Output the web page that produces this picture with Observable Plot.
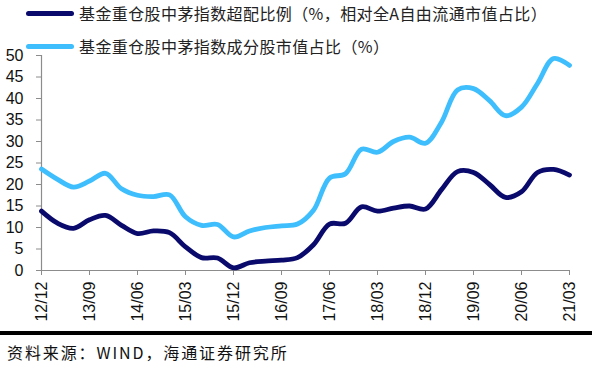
<!DOCTYPE html>
<html>
<head>
<meta charset="utf-8">
<script src="https://cdn.jsdelivr.net/npm/d3@7"></script>
<script src="https://cdn.jsdelivr.net/npm/@observablehq/plot@0.6"></script>
<style>
  html, body { margin: 0; padding: 0; background: #fff; }
  #wrap { position: relative; width: 592px; height: 372px; overflow: hidden; font-family: "Liberation Sans", Arial, sans-serif; }
  #chart { position: absolute; left: 0; top: 0; }
  .leg { position: absolute; left: 26px; height: 20px; display: flex; align-items: center; }
  .leg .sw { width: 48px; height: 5px; border-radius: 3px; margin-right: 5px; }
  .leg .tx { font-family: "Noto Sans CJK SC", "Liberation Sans", sans-serif; font-size: 16px; color: #222; white-space: nowrap; letter-spacing: 0.4px; }
  #bar { position: absolute; left: 0; top: 331px; width: 592px; height: 4px; background: #000; }
  #src { position: absolute; left: 7px; top: 340px; font-family: "Noto Sans CJK SC", sans-serif; font-size: 16px; color: #111; white-space: nowrap; letter-spacing: 1.9px; }
</style>
</head>
<body>
<div id="wrap">
  <div id="chart"></div>
  <div class="leg" style="top:3px"><div class="sw" id="sw1"></div><div class="tx" id="lt1"></div></div>
  <div class="leg" style="top:36px"><div class="sw" id="sw2"></div><div class="tx" id="lt2"></div></div>
  <div id="bar"></div>
  <div id="src"></div>
</div>
<script>
const quarters = ["12/12","13/03","13/06","13/09","13/12","14/03","14/06","14/09","14/12","15/03","15/06","15/09","15/12","16/03","16/06","16/09","16/12","17/03","17/06","17/09","17/12","18/03","18/06","18/09","18/12","19/03","19/06","19/09","19/12","20/03","20/06","20/09","20/12","21/03"];
const tickLabels = ["12/12","13/09","14/06","15/03","15/12","16/09","17/06","18/03","18/12","19/09","20/06","21/03"];
const overweight = [13.8,11.0,9.8,11.8,12.8,10.5,8.6,9.2,8.8,5.5,3.0,2.9,0.6,1.8,2.2,2.4,3.0,6.0,10.8,11.0,14.8,13.8,14.5,15.0,14.3,18.8,23.0,22.8,20.0,17.0,18.3,22.8,23.5,22.2];
const share = [23.6,21.2,19.4,20.8,22.6,19.0,17.5,17.2,17.6,12.5,10.5,10.7,7.8,9.2,10.0,10.4,10.8,14.0,21.5,22.5,28.2,27.5,30.0,31.0,29.6,34.5,42.0,42.3,39.5,36.0,38.0,43.5,49.3,47.7];
const yTicks = [0,5,10,15,20,25,30,35,40,45,50];
const seriesNames = ["基金重仓股中茅指数超配比例（%，相对全A自由流通市值占比）", "基金重仓股中茅指数成分股市值占比（%）"];
const seriesColors = ["#0a0a6c", "#3ebefc"];
const sourceText = "资料来源：WIND，海通证券研究所";

const rows1 = quarters.map((q, i) => ({q, v: overweight[i]}));
const rows2 = quarters.map((q, i) => ({q, v: share[i]}));

const plot = Plot.plot({
  width: 592,
  height: 332,
  marginTop: 55,
  marginBottom: 62,
  marginLeft: 41,
  marginRight: 23,
  style: {fontFamily: "'Liberation Sans', Arial, sans-serif", fontSize: "16px", color: "#111", background: "transparent"},
  x: {type: "point", domain: quarters, padding: 0},
  y: {domain: [0, 50]},
  marks: [
    Plot.ruleY([0], {stroke: "#8c8c8c", strokeWidth: 1.2}),
    Plot.ruleX([quarters[0]], {y1: 0, y2: 50, stroke: "#8c8c8c", strokeWidth: 1.2}),
    Plot.axisY({ticks: yTicks, tickSize: 5, tickPadding: 13, stroke: "#8c8c8c", fontSize: 16, label: null}),
    Plot.axisX({ticks: tickLabels, tickSize: 5, tickPadding: 6, tickRotate: -90, stroke: "#8c8c8c", fontSize: 16, label: null}),
    Plot.line(rows2, {x: "q", y: "v", stroke: seriesColors[1], strokeWidth: 4.8, curve: "catmull-rom"}),
    Plot.line(rows1, {x: "q", y: "v", stroke: seriesColors[0], strokeWidth: 4.8, curve: "catmull-rom"})
  ]
});
document.getElementById("chart").appendChild(plot);
document.getElementById("sw1").style.background = seriesColors[0];
document.getElementById("sw2").style.background = seriesColors[1];
document.getElementById("lt1").textContent = seriesNames[0];
document.getElementById("lt2").textContent = seriesNames[1];
document.getElementById("src").textContent = sourceText;
</script>
</body>
</html>
